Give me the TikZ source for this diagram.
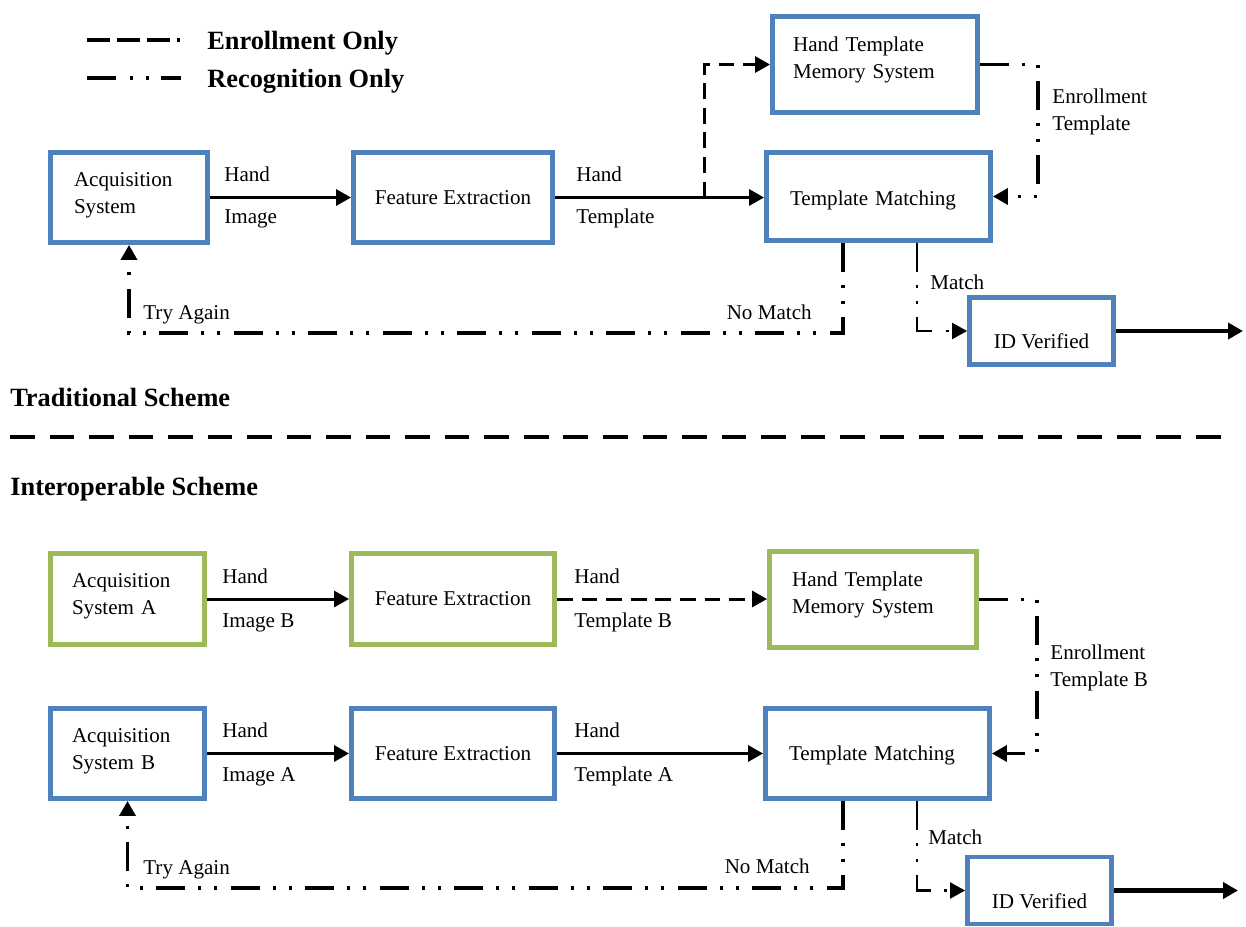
\documentclass[tikz,border=0pt]{standalone}
\usepackage{fontspec}
\setmainfont{Liberation Serif}
\usetikzlibrary{arrows.meta}
\definecolor{boxblue}{HTML}{4F81BD}
\definecolor{boxgreen}{HTML}{9BBB59}

\begin{document}
\begin{tikzpicture}[x=0.02cm, y=-0.02cm,
    every node/.style={font=\fontsize{12}{15.3}\selectfont},
    blk/.style={draw=boxblue, line width=2.8pt, fill=white, inner sep=0pt, align=left},
    grnblk/.style={blk, draw=boxgreen},
    lbl/.style={anchor=west, inner sep=0pt, text height=8pt, text depth=0pt},
    lbltwo/.style={anchor=north west, inner sep=0pt, align=left},
    scheme/.style={anchor=west, inner sep=0pt, text height=10.5pt, text depth=0pt, font=\fontsize{15}{18}\selectfont\bfseries},
    flow/.style={-{Triangle[length=3mm, width=3.2mm]}, line width=1.7pt},
    outflow/.style={flow, line width=2.3pt},
    enroll/.style={flow, dash pattern=on 9pt off 5pt},
    recog/.style={flow, line width=2pt, dash pattern=on 16.5pt off 7.5pt on 1.7pt off 7.5pt on 1.7pt off 7.5pt}]
    \useasboundingbox (0,0) rectangle (1246,926);

    % 1. Legend
    \draw[line width=2.2pt, dash pattern=on 13pt off 4pt] (87,40) -- (180,40);
    \node[scheme] (legE) at (207,40) {Enrollment Only};
    \draw[line width=2.2pt, dash pattern=on 16.5pt off 8pt on 1.7pt off 7.5pt on 1.7pt off 7pt] (87,78) -- (181,78);
    \node[scheme] (legR) at (207,78) {Recognition Only};

    % 2. Traditional scheme
    \node[blk, minimum width=3.14cm, minimum height=1.8cm, text width=2.2cm, text depth=20.5pt] (acqT) at (129,197.5) {Acquisition\\System};
    \node[blk, minimum width=3.98cm, minimum height=1.8cm] (feT) at (453,197.5) {Feature Extraction};
    \node[blk, minimum width=4.48cm, minimum height=1.76cm, text width=3.54cm, text height=12.7pt, text depth=3pt] (tmT) at (878.5,196.5) {Template Matching};
    \node[blk, minimum width=4.1cm, minimum height=1.92cm, text width=3.28cm, text depth=23.5pt] (memT) at (875,64.5) {Hand Template\\Memory System};
    \node[blk, minimum width=2.88cm, minimum height=1.34cm, text height=20pt, text depth=0pt] (idT) at (1041.5,331) {ID Verified};

    \draw[flow] (acqT) -- (feT);
    \draw[flow] (feT.east) -- (feT.east -| tmT.west);
    \coordinate (brT) at (704,197.5);
    \draw[enroll] (brT) |- (memT.west);
    \draw[recog] (memT.east) -- ++(58,0) |- (tmT.east);
    \draw[recog] ([xshift=-0.71cm]tmT.south) -- ++(0,90) -| (acqT.south);
    \draw[recog, line width=1.3pt] ([xshift=0.77cm]tmT.south) |- (idT.west);
    \coordinate (outT) at (1243,331);
    \draw[outflow] (idT.east) -- (outT);

    \node[lbl] (hiT) at (224,174) {Hand};
    \node[lbl] (imT) at (224,216) {Image};
    \node[lbl] (htT) at (576,174) {Hand};
    \node[lbl] (tpT) at (576,216) {Template};
    \node[lbltwo] (etT) at (1052,89) {Enrollment\\Template};
    \node[lbl] (tryT) at (143,312) {Try Again};
    \node[lbl, anchor=east] (nmT) at (812,312) {No Match};
    \node[lbl] (mT) at (930,282) {Match};

    \node[scheme] (tradT) at (10,397) {Traditional Scheme};

    % 3. Separator
    \draw[line width=2.3pt, dash pattern=on 14pt off 8.5pt] (10,437) -- (1228,437);

    % 4. Interoperable scheme
    \node[scheme] (intB) at (10,486) {Interoperable Scheme};

    \node[grnblk, minimum width=3.08cm, minimum height=1.82cm, text width=2.22cm, text depth=20.5pt] (acqA) at (127.5,599) {Acquisition\\System A};
    \node[grnblk, minimum width=4.06cm, minimum height=1.82cm] (feA) at (453,599) {Feature Extraction};
    \node[grnblk, minimum width=4.14cm, minimum height=1.92cm, text width=3.24cm, text depth=23.5pt] (memB) at (873,599.5) {Hand Template\\Memory System};
    \node[blk, minimum width=3.08cm, minimum height=1.8cm, text width=2.22cm, text depth=20.5pt] (acqB) at (127.5,753.5) {Acquisition\\System B};
    \node[blk, minimum width=4.06cm, minimum height=1.8cm] (feB) at (453,753.5) {Feature Extraction};
    \node[blk, minimum width=4.48cm, minimum height=1.8cm, text width=3.54cm, text height=10.4pt, text depth=3pt] (tmB) at (877.5,753.5) {Template Matching};
    \node[blk, minimum width=2.88cm, minimum height=1.34cm, text height=20pt, text depth=0pt] (idB) at (1039.5,890.5) {ID Verified};

    \draw[flow] (acqA) -- (feA);
    \draw[enroll] (feA.east) -- (feA.east -| memB.west);
    \draw[recog] (memB.east) -- ++(58,0) |- (tmB.east);
    \draw[flow] (acqB) -- (feB);
    \draw[flow] (feB) -- (tmB);
    \draw[recog] ([xshift=-0.69cm]tmB.south) -- ++(0,87) -| (acqB.south);
    \draw[recog, line width=1.3pt] ([xshift=0.79cm]tmB.south) |- (idB.west);
    \coordinate (outB) at (1238,890.5);
    \draw[outflow] (idB.east) -- (outB);

    \node[lbl] (hiA) at (222,576) {Hand};
    \node[lbl] (imB) at (222,620) {Image B};
    \node[lbl] (htB) at (574,576) {Hand};
    \node[lbl] (tpB) at (574,620) {Template B};
    \node[lbl] (hiB) at (222,730) {Hand};
    \node[lbl] (imA) at (222,774) {Image A};
    \node[lbl] (htA) at (574,730) {Hand};
    \node[lbl] (tpA) at (574,774) {Template A};
    \node[lbltwo] (etB) at (1050,645) {Enrollment\\Template B};
    \node[lbl] (tryB) at (143,867) {Try Again};
    \node[lbl, anchor=east] (nmB) at (810,866) {No Match};
    \node[lbl] (mB) at (928,837) {Match};
\end{tikzpicture}
\end{document}
